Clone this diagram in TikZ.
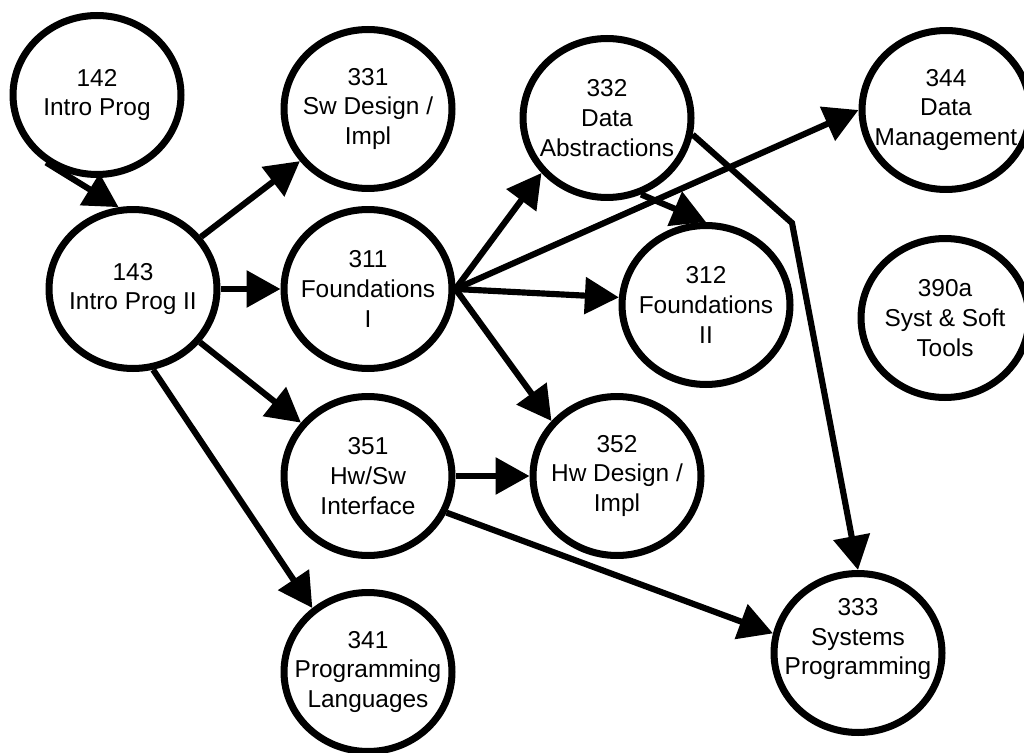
\documentclass[tikz,border=0pt]{standalone}
\usepackage{fontspec}
\setmainfont{Liberation Sans}
\usetikzlibrary{arrows.meta,shapes.geometric}

\begin{document}
\begin{tikzpicture}[x=0.02cm, y=-0.02cm,
		course/.style={ellipse, draw, line width=4pt, fill=white, inner sep=0pt,
				minimum width=3.36cm, minimum height=3.18cm},
		coursetext/.style={align=center, inner sep=0pt,
				font=\fontsize{13.9pt}{17pt}\selectfont},
		prereq/.style={line width=3.5pt, -{Triangle[length=0.68cm, width=0.72cm]}}]

			\useasboundingbox (0,0) rectangle (1024,753);

			% Draw each course as a circle with its number and title inside
			\node[course] (n142) at (97,95) {};
			\node[coursetext] (n142-t) at (n142) {142\\Intro Prog};
			\node[course] (n143) at (133,289) {};
			\node[coursetext] (n143-t) at (n143) {143\\Intro Prog II};
			\node[course] (n331) at (368,109) {};
			\node[coursetext] (n331-t) at (n331) {331\\Sw Design /\\Impl};
			\node[course] (n311) at (368,289) {};
			\node[coursetext] (n311-t) at (n311) {311\\Foundations\\I};
			\node[course] (n332) at (607,118) {};
			\node[coursetext] (n332-t) at (n332) {332\\Data\\Abstractions};
			\node[course] (n344) at (946,110) {};
			\node[coursetext] (n344-t) at (n344) {344\\Data\\Management};
			\node[course] (n312) at (706,305) {};
			\node[coursetext] (n312-t) at (n312) {312\\Foundations\\II};
			\node[course] (n390a) at (945,318) {};
			\node[coursetext] (n390a-t) at (n390a) {390a\\Syst \& Soft\\Tools};
			\node[course] (n351) at (368,476) {};
			\node[coursetext] (n351-t) at (n351) {351\\Hw/Sw\\Interface};
			\node[course] (n352) at (617,476) {};
			\node[coursetext] (n352-t) at (n352) {352\\Hw Design /\\Impl};
			\node[course] (n341) at (368,672) {};
			\node[coursetext] (n341-t) at (n341) {341\\Programming\\Languages};
			\node[course] (n333) at (858,653) {};
			% title of 333 sits a little above the centre
			\node[coursetext, yshift=0.28cm] (n333-t) at (n333) {333\\Systems\\Programming};

			% Add the prerequisite arrows
			\foreach \from/\to in {
					n142.233/n143.100,
					n143/n331,
					n143/n311,
					n143/n351,
					n143.-76/n341.131,
					n311.east/n332.220,
					n311.east/n344.west,
					n311.east/n312.175,
					n311.east/n352.140,
					n332.-66/n312.north,
					n351/n352,
					n351.-25/n333.167
				} {
					\draw[prereq] (\from) -- (\to);
				}
			\coordinate (bend) at (792,223);
			\draw[prereq] (n332.-11) -- (bend) -- (n333.north);

		\end{tikzpicture}
\end{document}
